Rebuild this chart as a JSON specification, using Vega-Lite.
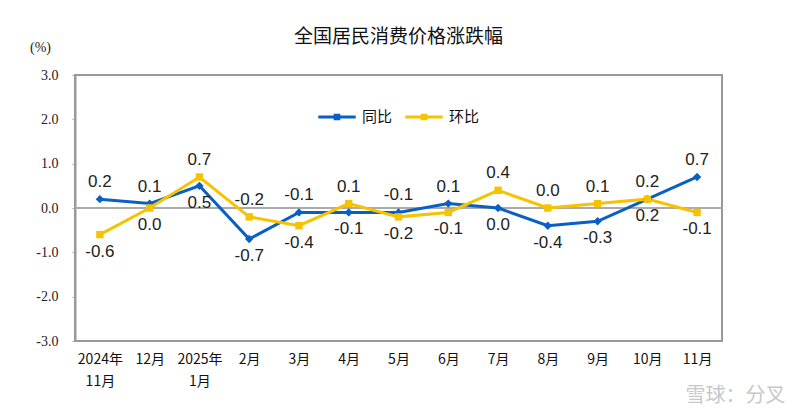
{
  "$schema": "https://vega.github.io/schema/vega-lite/v6.json",
  "autosize": {"type": "none"},
  "width": 647,
  "height": 266,
  "padding": {"left": 75, "top": 75, "right": 78, "bottom": 78},
  "background": "white",
  "title": {
    "text": "全国居民消费价格涨跌幅",
    "font": "Noto Sans CJK SC",
    "fontSize": 19,
    "fontWeight": "normal",
    "color": "#111",
    "anchor": "middle",
    "offset": -7
  },
  "config": {
    "view": {"stroke": "#999", "strokeWidth": 2},
    "axis": {"grid": false}
  },
  "data": {
    "values": [
      {"month": "2024年|11月", "series": "同比", "value": 0.2},
      {"month": "12月", "series": "同比", "value": 0.1},
      {"month": "2025年|1月", "series": "同比", "value": 0.5},
      {"month": "2月", "series": "同比", "value": -0.7},
      {"month": "3月", "series": "同比", "value": -0.1},
      {"month": "4月", "series": "同比", "value": -0.1},
      {"month": "5月", "series": "同比", "value": -0.1},
      {"month": "6月", "series": "同比", "value": 0.1},
      {"month": "7月", "series": "同比", "value": 0.0},
      {"month": "8月", "series": "同比", "value": -0.4},
      {"month": "9月", "series": "同比", "value": -0.3},
      {"month": "10月", "series": "同比", "value": 0.2},
      {"month": "11月", "series": "同比", "value": 0.7},
      {"month": "2024年|11月", "series": "环比", "value": -0.6},
      {"month": "12月", "series": "环比", "value": 0.0},
      {"month": "2025年|1月", "series": "环比", "value": 0.7},
      {"month": "2月", "series": "环比", "value": -0.2},
      {"month": "3月", "series": "环比", "value": -0.4},
      {"month": "4月", "series": "环比", "value": 0.1},
      {"month": "5月", "series": "环比", "value": -0.2},
      {"month": "6月", "series": "环比", "value": -0.1},
      {"month": "7月", "series": "环比", "value": 0.4},
      {"month": "8月", "series": "环比", "value": 0.0},
      {"month": "9月", "series": "环比", "value": 0.1},
      {"month": "10月", "series": "环比", "value": 0.2},
      {"month": "11月", "series": "环比", "value": -0.1}
    ]
  },
  "transform": [
    {"joinaggregate": [{"op": "max", "field": "value", "as": "mx"}, {"op": "min", "field": "value", "as": "mn"}], "groupby": ["month"]},
    {"calculate": "datum.series == '同比' ? datum.value >= datum.mx : datum.value > datum.mn", "as": "above"},
    {"calculate": "replace(format(datum.value, '.1f'), '\u2212', '-')", "as": "lbl"}
  ],
  "encoding": {
    "x": {
      "field": "month",
      "type": "ordinal",
      "sort": null,
      "scale": {"paddingInner": 0, "paddingOuter": 0},
      "axis": {
        "title": "雪球：分叉",
        "titleX": 660,
        "titleY": 44,
        "titleFont": "Noto Sans CJK SC",
        "titleFontSize": 20,
        "titleFontWeight": "normal",
        "titleColor": "#c8c8c8",
        "titleAlign": "center",
        "labelExpr": "split(datum.label, '|')",
        "labelAngle": 0,
        "labelFont": "Noto Sans CJK SC",
        "labelFontSize": 14,
        "labelColor": "#111",
        "labelLineHeight": 22,
        "labelPadding": 11,
        "labelBaseline": "top",
        "ticks": false,
        "domain": false
      }
    },
    "y": {
      "field": "value",
      "type": "quantitative",
      "scale": {"domain": [-3, 3], "nice": false, "zero": false},
      "axis": {
        "values": [-3, -2, -1, 0, 1, 2, 3],
        "labelExpr": "replace(format(datum.value, '.1f'), '\u2212', '-')",
        "title": "(%)",
        "titleAngle": 0,
        "titleX": -35,
        "titleY": -28,
        "titleAlign": "center",
        "titleBaseline": "middle",
        "titleFont": "Liberation Serif",
        "titleFontSize": 14,
        "titleFontWeight": "normal",
        "titleColor": "#222",
        "labelFont": "Liberation Serif",
        "labelFontSize": 14,
        "labelColor": "#222",
        "labelPadding": 14,
        "tickSize": 3,
        "tickColor": "#aaa",
        "domainColor": "#999",
        "domainWidth": 2
      }
    },
    "color": {
      "field": "series",
      "type": "nominal",
      "scale": {"domain": ["同比", "环比"], "range": ["#0A5FC4", "#F7C200"]},
      "legend": {
        "title": null,
        "orient": "none",
        "legendX": 243,
        "legendY": 23,
        "direction": "horizontal",
        "symbolType": "M-1,-0.08H1V0.08H-1Z M-0.18,-0.18H0.18V0.18H-0.18Z",
        "symbolSize": 1400,
        "labelFont": "Noto Sans CJK SC",
        "labelFontSize": 15,
        "labelColor": "#111",
        "labelOffset": 6,
        "columnPadding": 12,
        "encode": {
          "symbols": {
            "update": {
              "fill": {"scale": "color", "field": "value"},
              "fillOpacity": {"value": 1},
              "strokeWidth": {"value": 0}
            }
          }
        }
      }
    }
  },
  "layer": [
    {
      "mark": {"type": "rule", "color": "#aaa", "strokeWidth": 1.5},
      "encoding": {"y": {"datum": 0}, "x": {"value": 0}, "x2": {"value": 647}, "color": {"value": "#aaa"}}
    },
    {
      "mark": {"type": "line", "strokeWidth": 3},
      "encoding": {}
    },
    {
      "transform": [{"filter": "datum.series == '同比'"}],
      "mark": {"type": "point", "filled": true, "opacity": 1, "shape": "diamond", "size": 70},
      "encoding": {}
    },
    {
      "transform": [{"filter": "datum.series == '环比'"}],
      "mark": {"type": "point", "filled": true, "opacity": 1, "shape": "square", "size": 55},
      "encoding": {}
    },
    {
      "transform": [{"filter": "datum.above"}],
      "mark": {"type": "text", "dy": -17, "font": "Liberation Sans", "fontSize": 17, "color": "#222", "baseline": "middle"},
      "encoding": {"text": {"field": "lbl"}, "color": {"value": "#222"}}
    },
    {
      "transform": [{"filter": "!datum.above"}],
      "mark": {"type": "text", "dy": 17, "font": "Liberation Sans", "fontSize": 17, "color": "#222", "baseline": "middle"},
      "encoding": {"text": {"field": "lbl"}, "color": {"value": "#222"}}
    }
  ]
}
